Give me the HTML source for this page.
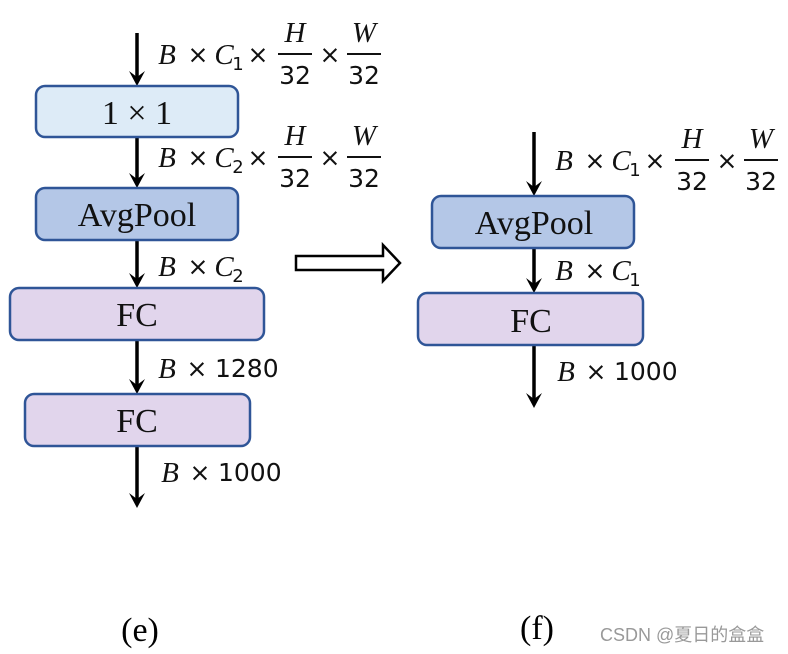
<!DOCTYPE html>
<html><head><meta charset="utf-8"><style>
html,body{margin:0;padding:0;background:#fff;}
svg{display:block}
.m{font-family:"Liberation Serif",serif;font-size:29px;fill:#111}
.i{font-style:italic}
.n{font-family:"DejaVu Sans",sans-serif;font-size:25px;fill:#111}
.box{font-family:"Liberation Serif",serif;font-size:34px;fill:#111}
</style></head><body>
<svg width="788" height="654" viewBox="0 0 788 654" xmlns="http://www.w3.org/2000/svg">
<defs>
<g id="ah"><polygon points="-8,-15 0,0 8,-15 0,-9" fill="#000"/></g>
<g id="lab1">
 <text class="m i" x="167" y="64" text-anchor="middle">B</text>
 <text class="n" x="198" y="63" text-anchor="middle">×</text>
 <text class="m i" x="224" y="64" text-anchor="middle">C</text>
 <text class="n" x="238" y="70" text-anchor="middle" style="font-size:18px">1</text>
 <text class="n" x="258" y="63" text-anchor="middle">×</text>
 <text class="m i" x="295" y="42" text-anchor="middle">H</text>
 <rect x="278" y="53" width="34" height="2" fill="#111"/>
 <text class="n" x="295" y="84" text-anchor="middle">32</text>
 <text class="n" x="330" y="63" text-anchor="middle">×</text>
 <text class="m i" x="364" y="42" text-anchor="middle">W</text>
 <rect x="347" y="53" width="34" height="2" fill="#111"/>
 <text class="n" x="364" y="84" text-anchor="middle">32</text>
</g>
</defs>
<g stroke="#000" stroke-width="3.5">
<line x1="137" y1="33" x2="137" y2="80"/>
<line x1="137" y1="137" x2="137" y2="182"/>
<line x1="137" y1="240" x2="137" y2="282"/>
<line x1="137" y1="340" x2="137" y2="388"/>
<line x1="137" y1="446" x2="137" y2="502"/>
<line x1="534" y1="132" x2="534" y2="190"/>
<line x1="534" y1="248" x2="534" y2="287"/>
<line x1="534" y1="345" x2="534" y2="402"/>
</g>
<use href="#ah" x="137" y="86"/><use href="#ah" x="137" y="188"/><use href="#ah" x="137" y="288"/>
<use href="#ah" x="137" y="394"/><use href="#ah" x="137" y="508"/>
<use href="#ah" x="534" y="196"/><use href="#ah" x="534" y="293"/><use href="#ah" x="534" y="408"/>
<g stroke="#2f5597" stroke-width="2.5">
<rect x="36" y="86" width="202" height="51" rx="9" fill="#ddebf7"/>
<rect x="36" y="188" width="202" height="52" rx="9" fill="#b4c7e7"/>
<rect x="10" y="288" width="254" height="52" rx="9" fill="#e1d5ec"/>
<rect x="25" y="394" width="225" height="52" rx="9" fill="#e1d5ec"/>
<rect x="432" y="196" width="202" height="52" rx="9" fill="#b4c7e7"/>
<rect x="418" y="293" width="225" height="52" rx="9" fill="#e1d5ec"/>
</g>
<text class="box" x="137" y="124" text-anchor="middle">1 × 1</text>
<text class="box" x="137" y="226" text-anchor="middle">AvgPool</text>
<text class="box" x="137" y="326" text-anchor="middle">FC</text>
<text class="box" x="137" y="432" text-anchor="middle">FC</text>
<text class="box" x="534" y="234" text-anchor="middle">AvgPool</text>
<text class="box" x="531" y="332" text-anchor="middle">FC</text>
<use href="#lab1"/>
<use href="#lab1" y="103"/>
<g transform="translate(397,106)"><use href="#lab1"/></g>
<text class="m i" x="167" y="276" text-anchor="middle">B</text>
<text class="n" x="198" y="275" text-anchor="middle">×</text>
<text class="m i" x="224" y="276" text-anchor="middle">C</text>
<text class="n" x="238" y="282" text-anchor="middle" style="font-size:18px">2</text>
<rect x="231" y="160" width="14" height="16" fill="#fff"/>
<text class="n" x="238" y="173" text-anchor="middle" style="font-size:18px">2</text>
<text class="m i" x="167" y="378" text-anchor="middle">B</text>
<text class="n" x="197" y="377" text-anchor="middle">×</text>
<text class="n" x="215" y="377">1280</text>
<text class="m i" x="170" y="482" text-anchor="middle">B</text>
<text class="n" x="200" y="481" text-anchor="middle">×</text>
<text class="n" x="218" y="481">1000</text>
<text class="m i" x="564" y="280" text-anchor="middle">B</text>
<text class="n" x="595" y="279" text-anchor="middle">×</text>
<text class="m i" x="621" y="280" text-anchor="middle">C</text>
<text class="n" x="635" y="286" text-anchor="middle" style="font-size:18px">1</text>
<text class="m i" x="566" y="381" text-anchor="middle">B</text>
<text class="n" x="596" y="380" text-anchor="middle">×</text>
<text class="n" x="614" y="380">1000</text>
<polygon points="296,256 383,256 383,245 400,263 383,281 383,270 296,270" fill="#fff" stroke="#000" stroke-width="2.5"/>
<text x="140" y="641" text-anchor="middle" style="font-family:'Liberation Serif',serif;font-size:34px">(e)</text>
<text x="537" y="639" text-anchor="middle" style="font-family:'Liberation Serif',serif;font-size:34px">(f)</text>
<text x="600" y="641" style="font-family:'Liberation Sans','Noto Sans CJK SC',sans-serif;font-size:18px;fill:#999">CSDN @夏日的盒盒</text>
</svg>
</body></html>
